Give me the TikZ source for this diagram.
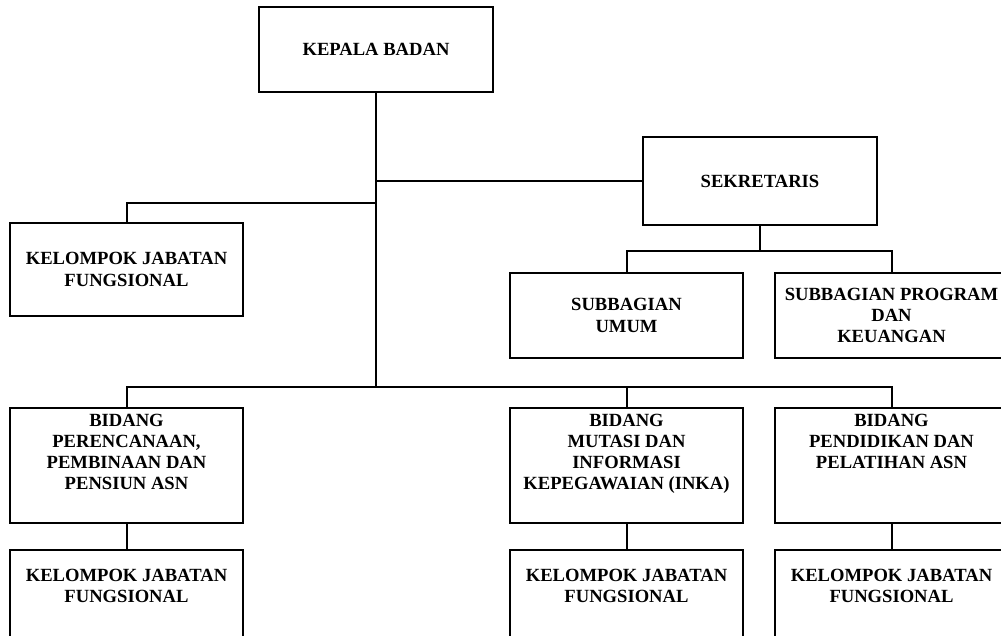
\documentclass[tikz,border=0pt]{standalone}
\usepackage{fontspec}
\setmainfont{Liberation Serif}
\begin{document}
\begin{tikzpicture}[x=1pt,y=-1pt,
  box/.style={draw, line width=2pt, minimum width=233pt, inner sep=0pt, align=center,
    font=\bfseries\fontsize{18.6}{21.3}\selectfont},
  txt/.style={inner sep=0pt, align=center, anchor=north,
    font=\bfseries\fontsize{18.6}{21.0}\selectfont},
  conn/.style={line width=2pt}]
\useasboundingbox (0,0) rectangle (1001,635);
\clip (0,0) rectangle (1001,635);
% boxes
\node[box, minimum width=234pt, minimum height=85pt] (kb) at (376,49.5) {KEPALA BADAN};
\node[box, minimum width=234pt, minimum height=88pt] (sek) at (760,181) {SEKRETARIS};
\node[box, minimum height=93pt] (kjf1) at (126.5,269.5) {KELOMPOK JABATAN\\FUNGSIONAL};
\node[box, minimum height=85pt] (su) at (626.5,315.5) {SUBBAGIAN\\UMUM};
\node[box, minimum height=85pt] (sp) at (891.5,315.5) {SUBBAGIAN PROGRAM\\DAN\\KEUANGAN};
\node[box, minimum height=115pt] (b1) at (126.5,465.5) {};
\node[box, minimum height=115pt] (b2) at (626.5,465.5) {};
\node[box, minimum height=115pt] (b3) at (891.5,465.5) {};
\node[txt] (b1t) at ([yshift=-7pt]b1.north) {BIDANG\\PERENCANAAN,\\PEMBINAAN DAN\\PENSIUN ASN};
\node[txt] (b2t) at ([yshift=-7pt]b2.north) {BIDANG\\MUTASI DAN\\INFORMASI\\KEPEGAWAIAN (INKA)};
\node[txt] (b3t) at ([yshift=-7pt]b3.north) {BIDANG\\PENDIDIKAN DAN\\PELATIHAN ASN};
\node[box, minimum height=110pt] (k1) at (126.5,605) {};
\node[box, minimum height=110pt] (k2) at (626.5,605) {};
\node[box, minimum height=110pt] (k3) at (891.5,605) {};
\node[txt] (k1t) at ([yshift=-20pt]k1.north) {KELOMPOK JABATAN\\FUNGSIONAL};
\node[txt] (k2t) at ([yshift=-20pt]k2.north) {KELOMPOK JABATAN\\FUNGSIONAL};
\node[txt] (k3t) at ([yshift=-20pt]k3.north) {KELOMPOK JABATAN\\FUNGSIONAL};
% junctions
\coordinate (j1) at (376,181);
\coordinate (j2) at (376,203);
\coordinate (j3) at (376,386.5);
\coordinate (j4) at (760,251);
% connectors
\draw[conn] (kb.south) -- (j3);
\draw[conn] (j1) -- (sek.west);
\draw[conn] (j2) -| (kjf1.north);
\draw[conn] (sek.south) -- (j4);
\draw[conn] (su.north) |- (j4) -| (sp.north);
\draw[conn] (b1.north) |- (j3) -| (b3.north);
\draw[conn] (b2.north) -- (b2.north |- j3);
\draw[conn] (b1.south) -- (k1.north);
\draw[conn] (b2.south) -- (k2.north);
\draw[conn] (b3.south) -- (k3.north);
\end{tikzpicture}
\end{document}
